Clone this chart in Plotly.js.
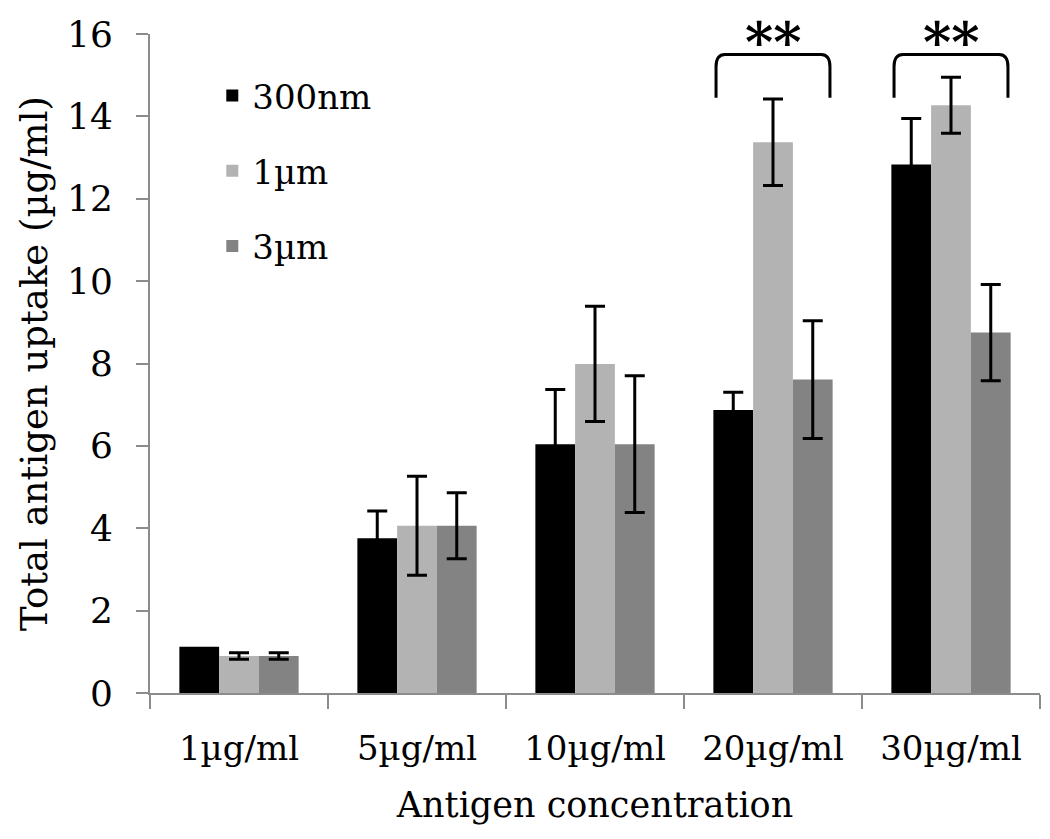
<!DOCTYPE html>
<html>
<head>
<meta charset="utf-8">
<script src="https://cdn.plot.ly/plotly-3.0.1.min.js"></script>
<style>
  html, body { margin: 0; padding: 0; background: #fff; }
  #chart { width: 1050px; height: 839px; }
</style>
</head>
<body>
<div id="chart"></div>
<script>
// antigen uptake per concentration and particle size
const categories = ['1\u00b5g/ml', '5\u00b5g/ml', '10\u00b5g/ml', '20\u00b5g/ml', '30\u00b5g/ml'];
const seriesNames = ['300nm', '1\u00b5m', '3\u00b5m'];

const uptake300nm = [1.12, 3.76, 6.04, 6.87, 12.83];
const uptake1um = [0.90, 4.06, 7.99, 13.37, 14.27];
const uptake3um = [0.90, 4.06, 6.04, 7.61, 8.75];

// no visible error bar on the first 300nm bar
const err300nm = [NaN, 0.66, 1.33, 0.43, 1.12];
const err1um = [0.08, 1.2, 1.4, 1.05, 0.68];
const err3um = [0.08, 0.8, 1.66, 1.43, 1.17];

// significance brackets: which group, label
const sigGroups = [3, 4];
const sigLabels = ['**', '**'];

const FONT = 'DejaVu Serif, Liberation Serif, serif';
const colors = ['#000000', '#b3b3b3', '#838383'];
const values = [uptake300nm, uptake1um, uptake3um];
const errors = [err300nm, err1um, err3um];

const data = seriesNames.map((name, i) => ({
  type: 'bar',
  name: name,
  legendgroup: 'g' + i,
  x: categories,
  y: values[i],
  marker: { color: colors[i], line: { width: 0 } },
  error_y: {
    type: 'data',
    array: errors[i],
    visible: true,
    color: '#000',
    thickness: 3,
    width: 10
  }
}));

// bracket geometry (in category index / data units)
const bracketTop = 15.5;
const bracketEnd = 14.45;
const bracketHalf = 0.32;

const shapes = sigGroups.map((g) => {
  const x0 = g - bracketHalf;
  const x1 = g + bracketHalf;
  const r = 0.05;
  const ry = 0.3;
  return {
    type: 'path',
    xref: 'x',
    yref: 'y',
    path: `M ${x0},${bracketEnd} L ${x0},${bracketTop - ry} Q ${x0},${bracketTop} ${x0 + r},${bracketTop} ` +
          `L ${x1 - r},${bracketTop} Q ${x1},${bracketTop} ${x1},${bracketTop - ry} L ${x1},${bracketEnd}`,
    line: { color: '#000', width: 3 }
  };
});

const annotations = sigGroups.map((g, i) => ({
  x: g,
  y: bracketTop,
  xref: 'x',
  yref: 'y',
  text: '<b>' + sigLabels[i] + '</b>',
  showarrow: false,
  yanchor: 'bottom',
  yshift: -21,
  font: { family: FONT, size: 54, color: '#000' }
}));

const layout = {
  width: 1050,
  height: 839,
  margin: { l: 150, r: 10, t: 34, b: 146 },
  paper_bgcolor: '#fff',
  plot_bgcolor: '#fff',
  barmode: 'group',
  bargap: 0.33,
  bargroupgap: 0,
  font: { family: FONT, color: '#000' },
  showlegend: true,
  legend: {
    x: 0.07,
    y: 0.95,
    xanchor: 'left',
    yanchor: 'top',
    bgcolor: 'rgba(0,0,0,0)',
    font: { family: FONT, size: 34, color: '#000' },
    tracegroupgap: 28,
    itemwidth: 30
  },
  xaxis: {
    type: 'category',
    showline: true,
    linecolor: '#8c8c8c',
    linewidth: 2,
    ticks: 'outside',
    tickson: 'boundaries',
    ticklen: 14,
    tickwidth: 2,
    tickcolor: '#8c8c8c',
    ticklabelstandoff: 24,
    showgrid: false,
    tickfont: { family: FONT, size: 34, color: '#000' },
    title: { text: 'Antigen concentration', font: { family: FONT, size: 35, color: '#000' }, standoff: 26 }
  },
  yaxis: {
    range: [0, 16],
    dtick: 2,
    showline: true,
    linecolor: '#8c8c8c',
    linewidth: 2,
    ticks: 'outside',
    ticklen: 12,
    tickwidth: 2,
    tickcolor: '#8c8c8c',
    ticklabelstandoff: 16,
    showgrid: false,
    zeroline: false,
    tickfont: { family: FONT, size: 36, color: '#000' },
    title: { text: 'Total antigen uptake (\u00b5g/ml)', font: { family: FONT, size: 37, color: '#000' }, standoff: 8 }
  },
  shapes: shapes,
  annotations: annotations
};

Plotly.newPlot('chart', data, layout, { displayModeBar: false, staticPlot: true });
</script>
</body>
</html>
